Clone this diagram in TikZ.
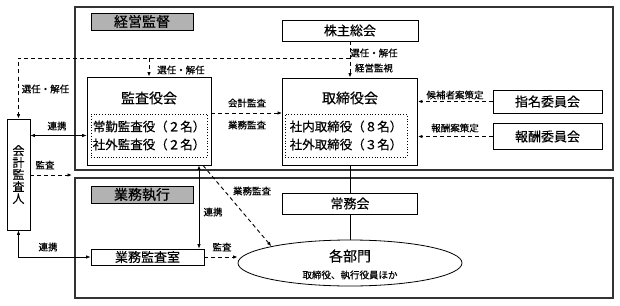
\documentclass[tikz,border=0pt]{standalone}
\usepackage{fontspec}
\setmainfont{Noto Sans CJK JP}[FakeBold=0.4]
\usetikzlibrary{positioning, arrows.meta, calc, shapes.geometric}

\begin{document}
\begin{tikzpicture}[x=1pt, y=-1pt, >={Latex[length=4.5pt,width=3.5pt]},
    frame/.style={draw=black!80, line width=1.2pt},
    box/.style={draw, line width=0.8pt, inner sep=0pt, font=\fontsize{13}{15}\selectfont},
    tag/.style={box, fill=black!30, minimum width=102, minimum height=17, font=\fontsize{14}{16}\selectfont},
    member/.style={draw, dotted, line width=0.8pt, minimum width=116, minimum height=43, align=center, inner sep=0pt, font=\fontsize{12.5}{18}\selectfont},
    title/.style={font=\fontsize{14}{16}\selectfont, inner sep=0pt},
    lbl/.style={font=\fontsize{9.5}{11}\selectfont, inner sep=1pt},
    dsh/.style={->, dash pattern=on 4pt off 3pt, line width=0.9pt},
    con/.style={line width=0.7pt}]
    \useasboundingbox (0,0) rectangle (620,305);

    % Frames
    \draw[frame] (75,7) rectangle (613,170);
    \draw[frame] (75,178) rectangle (613,298);
    \node[tag] (kantoku) at (142,21.5) {経営監督};
    \node[tag] (shikko) at (142,194.5) {業務執行};

    % Boxes
    \node[box, minimum width=136, minimum height=21] (sokai) at (350,30.5) {株主総会};
    \node[box, minimum width=124, minimum height=88] (kansa) at (149,121) {};
    \node[title] (kansat) at (149,98) {監査役会};
    \node[member] (kansam) at (149,135.5) {常勤監査役（２名）\\社外監査役（２名）};
    \node[box, minimum width=135, minimum height=87] (tori) at (350,121.5) {};
    \node[title] (torit) at (350,98) {取締役会};
    \node[member, minimum width=122] (torim) at (346,135.5) {社内取締役（８名）\\社外取締役（３名）};
    \node[box, minimum width=109, minimum height=23] (shimei) at (547.5,101.5) {指名委員会};
    \node[box, minimum width=109, minimum height=26] (hoshu) at (547.5,136.5) {報酬委員会};
    \node[box, minimum width=23, minimum height=111, align=center,
          font=\fontsize{12}{12}\selectfont] (kaikei) at (18.5,174.5) {会\\計\\監\\査\\人};
    \node[box, minimum width=135, minimum height=21] (jomu) at (350,203.5) {常務会};
    \node[box, minimum width=113, minimum height=16] (naibu) at (147.5,257) {業務監査室};
    \node[draw, ellipse, line width=0.8pt, minimum width=224, minimum height=46, inner sep=0pt] (bumon) at (350,263) {};
    \node[title] (bumont) at (350,256) {各部門};
    \node[lbl] (bumons) at (350,275) {取締役、執行役員ほか};

    % Connectors
    \coordinate (fork) at (sokai.south |- 0,58);
    \draw[dsh] (sokai.south) -- (sokai.south |- tori.north);
    \draw[dsh] (fork) -| (kaikei.north);
    \draw[dsh] (kansa.north |- fork) -- (kansa.north);
    \draw[con, <->] (kaikei.east |- kansam) -- (kansa.west |- kansam);
    \coordinate (gap) at (72,175);
    \draw[dsh] (kaikei.east |- gap) -- (gap);
    \draw[dsh] (kansa.east |- 0,113) -- (tori.west |- 0,113);
    \draw[dsh] (shimei.west) -- (shimei.west -| tori.east);
    \draw[dsh] (hoshu.west) -- (hoshu.west -| tori.east);
    \draw[con] (tori.south) -- (jomu.north);
    \draw[con] (jomu.south) -- (bumon.north);
    \coordinate (kl) at (kansa.south -| 199,0);
    \draw[con, <->] (kl) -- (kl |- naibu.north);
    \coordinate (kd) at (kansa.south -| 203,0);
    \draw[dsh] (kd) -- (bumon.168);
    \draw[dsh] (naibu.east) -- (naibu.east -| bumon.west);
    \draw[con, <->] (kaikei.south) |- (naibu.west);

    % Labels
    \node[lbl] (l1) at (181,70) {選任・解任};
    \node[lbl] (l2) at (45.5,89) {選任・解任};
    \node[lbl] (l3) at (374,53) {選任・解任};
    \node[lbl] (l4) at (374,68) {経営監視};
    \node[lbl] (l5) at (247,103) {会計監査};
    \node[lbl] (l6) at (247,125) {業務監査};
    \node[lbl] (l7) at (455,95) {候補者案策定};
    \node[lbl] (l8) at (455,128) {報酬案策定};
    \node[lbl] (l9) at (57,126) {連携};
    \node[lbl] (l10) at (45,165) {監査};
    \node[lbl] (l11) at (213,212) {連携};
    \node[lbl] (l12) at (252,191) {業務監査};
    \node[lbl] (l13) at (222,247) {監査};
    \node[lbl] (l14) at (48,247) {連携};
\end{tikzpicture}
\end{document}
